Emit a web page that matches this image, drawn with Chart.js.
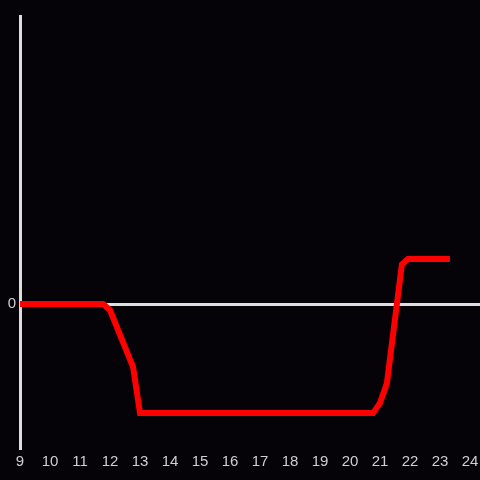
<!DOCTYPE html>
<html>
<head>
<meta charset="utf-8">
<script src="https://cdn.jsdelivr.net/npm/chart.js@4"></script>
<style>
  html, body { margin: 0; padding: 0; background: #050307; }
  #wrap { width: 480px; height: 480px; }
</style>
</head>
<body>
<div id="wrap"><canvas id="grafica"></canvas></div>
<script>
// horas del dia y valor de la serie
const horas   = [9, 11.77, 12.0, 12.77, 13.0, 20.77, 21.0, 21.23, 21.73, 21.93, 23.33];
const valores = [0, 0, -0.17, -1.75, -3.03, -3.03, -2.75, -2.2, 1.1, 1.25, 1.25];
const ticksX  = [9, 10, 11, 12, 13, 14, 15, 16, 17, 18, 19, 20, 21, 22, 23, 24];

const EJE = '#dedede';
const TEXTO = '#cfcfcf';
const FUENTE = { family: 'Liberation Sans', size: 15 };

const ctx = document.getElementById('grafica').getContext('2d');

new Chart(ctx, {
    type: 'line',
    data: {
        datasets: [{
            data: horas.map((h, i) => ({ x: h, y: valores[i] })),
            borderColor: '#ff0000',
            borderWidth: 6,
            pointRadius: 0,
            tension: 0,
            fill: false
        }]
    },
    options: {
        responsive: true,
        maintainAspectRatio: false,
        animation: false,
        layout: { padding: { top: 16, right: 0, left: 0, bottom: 0 } },
        plugins: { legend: { display: false }, tooltip: { enabled: false } },
        scales: {
            x: {
                type: 'linear',
                min: 9,
                max: 24 + 1 / 3,
                afterBuildTicks: scale => {
                    scale.ticks = ticksX.map(v => ({ value: v }));
                },
                afterFit: scale => {
                    scale.height = 32;
                    scale.paddingLeft = 0;
                    scale.paddingRight = 0;
                },
                grid: { display: false },
                border: { display: false },
                ticks: { color: TEXTO, font: FUENTE, padding: -3, maxRotation: 0, autoSkip: false }
            },
            y: {
                min: -4,
                max: 8,
                afterBuildTicks: scale => {
                    scale.ticks = [{ value: 0 }];
                },
                afterFit: scale => { scale.width = 20; },
                grid: {
                    drawTicks: false,
                    color: c => c.tick && c.tick.value === 0 ? EJE : 'transparent',
                    lineWidth: 3
                },
                border: { display: true, color: EJE, width: 3 },
                ticks: { color: TEXTO, font: FUENTE, padding: 4 }
            }
        }
    }
});
</script>
</body>
</html>
